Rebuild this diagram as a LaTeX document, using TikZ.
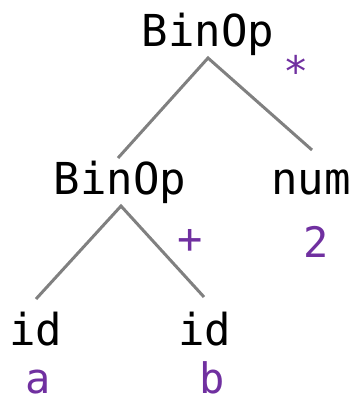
\documentclass[tikz,border=0pt]{standalone}
\usepackage{fontspec}
\setmonofont{DejaVu Sans Mono}
\definecolor{tokpurple}{HTML}{7030A0}
\definecolor{edgegray}{HTML}{808080}
\tikzset{
  sym/.style={font=\ttfamily\fontsize{44}{44}\selectfont, text=black, inner sep=0pt, anchor=base},
  tok/.style={font=\ttfamily\fontsize{42}{42}\selectfont, text=tokpurple, inner sep=0pt, anchor=base},
  edge/.style={draw=edgegray, line width=3pt},
}
\begin{document}
\begin{tikzpicture}[x=1pt,y=-1pt]
  \useasboundingbox (0,0) rectangle (354,397);
  % grammar symbols
  \node[sym] (root) at (208,46) {BinOp};
  \node[sym] (inner) at (120,194) {BinOp};
  \node[sym] (num) at (311,194) {num};
  \node[sym] (ida) at (36,345) {id};
  \node[sym] (idb) at (205,345) {id};
  % token values
  \node[tok] (star) at (296,86) {*};
  \node[tok] (plus) at (190,253) {+};
  \node[tok] (two) at (316,257) {2};
  \node[tok] (va) at (38,393) {a};
  \node[tok] (vb) at (212,393) {b};
  % edge end points
  \coordinate (rootJ) at (208,58);
  \coordinate (innerTop) at (118,158);
  \coordinate (numTop) at (312,150);
  \coordinate (innerJ) at (121,206);
  \coordinate (idaTop) at (36,299);
  \coordinate (idbTop) at (204,297);
  \draw[edge] (innerTop) -- (rootJ) -- (numTop);
  \draw[edge] (idaTop) -- (innerJ) -- (idbTop);
\end{tikzpicture}
\end{document}
